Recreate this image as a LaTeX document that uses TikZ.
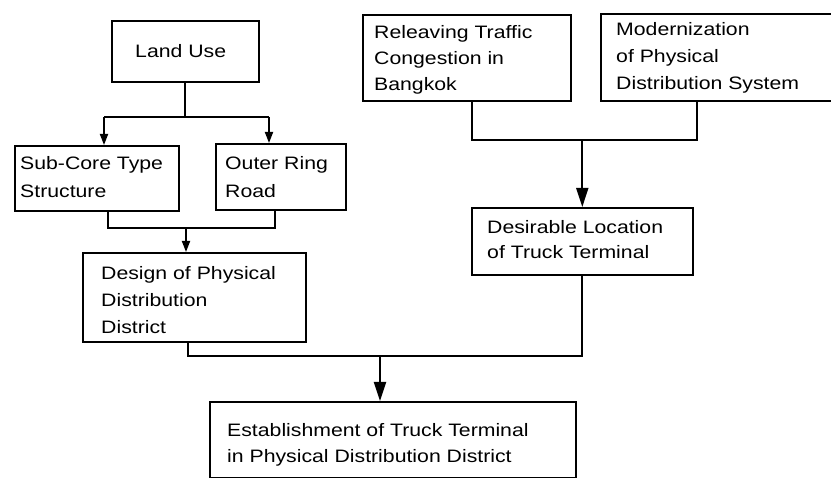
\documentclass[tikz,border=0pt]{standalone}
\usepackage{fontspec}
\setmainfont{Liberation Sans}[FakeStretch=1.18]
\usetikzlibrary{arrows.meta,calc}

\tikzset{
  box/.style={draw, rectangle, line width=1.6pt, inner sep=0pt, anchor=north west},
  txt/.style={anchor=base west, inner sep=0pt, font=\fontsize{18}{20}\selectfont},
  conn/.style={line width=1.8pt},
  smallarr/.style={conn, -{Triangle[length=11pt, width=8pt]}},
  bigarr/.style={conn, -{Triangle[length=19pt, width=12pt]}}
}

\begin{document}
\begin{tikzpicture}[x=1pt, y=-1pt]
  \clip (0,0) rectangle (831,478);
  \fill[white] (0,0) rectangle (831,478);

  % boxes
  \node[box, minimum width=147pt, minimum height=61pt] (land)   at (111,20)  {};
  \node[box, minimum width=164pt, minimum height=65pt] (sub)    at (14,145)  {};
  \node[box, minimum width=130pt, minimum height=66pt] (outer)  at (215,143) {};
  \node[box, minimum width=223pt, minimum height=89pt] (design) at (82,252)  {};
  \node[box, minimum width=208pt, minimum height=86pt] (rel)    at (362,14)  {};
  \node[box, minimum width=240pt, minimum height=87pt] (mod)    at (600,13)  {};
  \node[box, minimum width=221pt, minimum height=67pt] (desire) at (471,207) {};
  \node[box, minimum width=366pt, minimum height=76pt] (est)    at (209,401) {};

  % labels
  \node[txt] (tland) at (135,58) {Land Use};
  \node[txt] (tsub1) at (20,170) {Sub-Core Type};
  \node[txt] (tsub2) at (20,198) {Structure};
  \node[txt] (tout1) at (225,170) {Outer Ring};
  \node[txt] (tout2) at (225,198) {Road};
  \node[txt] (tdes1) at (101,280) {Design of Physical};
  \node[txt] (tdes2) at (101,307) {Distribution};
  \node[txt] (tdes3) at (101,334) {District};
  \node[txt] (trel1) at (374,39) {Releaving Traffic};
  \node[txt] (trel2) at (374,65) {Congestion in};
  \node[txt] (trel3) at (374,91) {Bangkok};
  \node[txt] (tmod1) at (616,36) {Modernization};
  \node[txt] (tmod2) at (616,63) {of Physical};
  \node[txt] (tmod3) at (616,90) {Distribution System};
  \node[txt] (tloc1) at (487,234) {Desirable Location};
  \node[txt] (tloc2) at (487,259) {of Truck Terminal};
  \node[txt] (test1) at (227,437) {Establishment of Truck Terminal};
  \node[txt] (test2) at (227,463) {in Physical Distribution District};

  % junction points
  \coordinate (a1) at (104,117);
  \coordinate (a2) at (269,117);
  \coordinate (b1) at (108,228);
  \coordinate (b2) at (275,228);
  \coordinate (b3) at (186,228);
  \coordinate (c1) at (472,140);
  \coordinate (c2) at (697,140);
  \coordinate (d1) at (188,356);
  \coordinate (d3) at (380,356);

  % Land Use -> Sub-Core / Outer Ring
  \draw[conn] (land.south) -- (land.south |- a1);
  \draw[conn] (a1) -- (a2);
  \draw[smallarr] (a1) -- (a1 |- sub.north);
  \draw[smallarr] (a2) -- (a2 |- outer.north);

  % Sub-Core + Outer Ring -> Design
  \draw[conn] (b1 |- sub.south) -- (b1) -- (b2) -- (b2 |- outer.south);
  \draw[smallarr] (b3) -- (b3 |- design.north);

  % Releaving + Modernization -> Desirable Location
  \draw[conn] (c1 |- rel.south) -- (c1) -- (c2) -- (c2 |- mod.south);
  \draw[bigarr] (desire.north |- c1) -- (desire.north);

  % Design + Desirable Location -> Establishment
  \draw[conn] (d1 |- design.south) -- (d1) -| (desire.south);
  \draw[bigarr] (d3) -- (d3 |- est.north);
\end{tikzpicture}
\end{document}
